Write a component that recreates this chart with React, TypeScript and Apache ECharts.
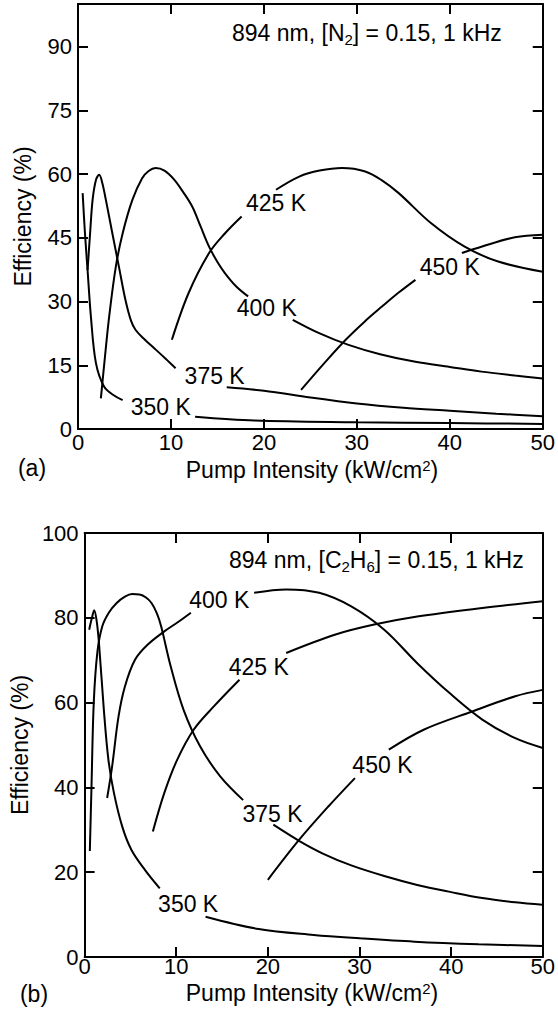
import React, { useEffect, useRef } from "react";
import * as echarts from "echarts";

type Pt = [number, number] | null;

// ---------- Panel (a): 894 nm, [N2] = 0.15, 1 kHz ----------
const n2_350K: Pt[] = [[0.5, 55.5], [0.75, 46], [1.03, 37.4], [1.39, 26.4], [1.93, 15.5], [2.8, 10], [3.8, 8], [4.8, 6.8], null, [12.6, 2.9], [19, 2.0], [30, 1.6], [40, 1.4], [50, 1.2]];
const n2_375K: Pt[] = [[1.03, 37.4], [1.3, 46], [1.57, 53.9], [1.93, 58.6], [2.28, 59.8], [2.6, 58], [3.0, 53.9], [3.7, 46], [4.4, 38.2], [5.1, 30.4], [5.7, 25.5], [6.2, 23.3], [7.2, 21], [8.0, 19.4], [9.4, 16.6], [10.5, 14.3], null, [16, 9.8], [20, 9.0], [25, 7.4], [30, 6.0], [35, 5.0], [40, 4.3], [45, 3.6], [50, 3.0]];
const n2_400K: Pt[] = [[2.46, 7.2], [2.9, 17], [3.35, 26.4], [4.07, 38.2], [4.8, 46], [5.85, 53.9], [6.9, 59], [7.6, 60.7], [8.35, 61.4], [9.3, 60.8], [10.3, 58.8], [11.3, 55.8], [12.3, 52.3], [13.2, 47.6], [14.1, 42.9], [15.0, 39.3], [15.8, 36.7], [17, 33.6], [18.3, 31.2], null, [23.1, 25.7], [26, 22.5], [29.1, 19.8], [32.5, 17.6], [36.3, 15.8], [40, 14.6], [43.4, 13.5], [47, 12.6], [50, 11.9]];
const n2_425K: Pt[] = [[10.1, 21], [11.9, 32], [14.1, 41.4], [15.8, 46], [17.6, 50], null, [21.3, 56.3], [23.8, 59.4], [26, 60.8], [28.4, 61.4], [30.9, 60.6], [32.7, 58.5], [34.5, 55.5], [38, 48.4], [41.6, 42.9], [45.2, 39.4], [50, 37]];
const n2_450K: Pt[] = [[24, 9.2], [26.5, 15.5], [28.8, 21], [30.8, 25.2], [32.7, 28.8], [34.5, 32.1], [36.3, 35.1], null, [41.3, 41.4], [43.4, 42.9], [47, 45.1], [50, 45.7]];

// ---------- Panel (b): 894 nm, [C2H6] = 0.15, 1 kHz ----------
const c2_350K: Pt[] = [[0.5, 77.2], [0.8, 80], [1.05, 81.8], [1.3, 79.5], [1.57, 74], [2.1, 58.3], [2.6, 46.5], [3.2, 38.7], [4.1, 30.8], [5.1, 25.3], [6.6, 20.5], [8.2, 16.2], null, [13.2, 9.5], [19, 6.6], [25, 5.2], [30, 4.4], [36, 3.6], [43, 3.0], [50, 2.6]];
const c2_375K: Pt[] = [[0.57, 25], [0.75, 40], [1.0, 60], [1.4, 72], [1.93, 78], [2.64, 81.2], [3.5, 83.5], [4.4, 85], [5.2, 85.6], [6.0, 85.5], [6.7, 84.8], [7.3, 83.5], [7.9, 81], [8.35, 78], [9.4, 68.5], [10.8, 58.3], [12.6, 49.7], [14.8, 42.6], [17.3, 37], null, [20.6, 31.2], [23.4, 27.4], [26, 24.4], [29.1, 21.6], [32.7, 19.1], [36.3, 17], [40, 15.3], [43.4, 13.9], [47, 12.9], [50, 12.3]];
const c2_400K: Pt[] = [[2.46, 37.5], [3.0, 44.9], [3.7, 56.7], [4.4, 63.8], [5.5, 70.1], [6.9, 73.7], [8.7, 76.8], [10.2, 79], [11.6, 81.2], null, [18.5, 85.9], [22, 86.7], [25.6, 85.9], [29.1, 82.7], [32.7, 77.2], [36.3, 69.3], [39.8, 62.3], [43.4, 56], [47, 51.6], [50, 49.3]];
const c2_425K: Pt[] = [[7.45, 29.6], [8.7, 38.7], [10.1, 46.5], [11.9, 53.6], [14.1, 59.1], [16.9, 65.4], null, [22, 71.7], [27.3, 76], [31.6, 78.4], [36.3, 80.3], [43.4, 82.3], [50, 83.9]];
const c2_450K: Pt[] = [[20, 18.2], [23.4, 27.6], [26.6, 35.5], [29.5, 42.2], null, [33.2, 48.9], [37, 53.6], [42.3, 57.9], [47, 61.5], [50, 63]];

// curve annotations (text anchored in data coordinates)
const n2Labels = [
  { text: "350 K", x: 8.9, y: 5.1 },
  { text: "375 K", x: 14.7, y: 12.5 },
  { text: "400 K", x: 20.3, y: 28.5 },
  { text: "425 K", x: 21.3, y: 53.2 },
  { text: "450 K", x: 40, y: 38.1 },
];
const c2Labels = [
  { text: "350 K", x: 11.3, y: 12.5 },
  { text: "375 K", x: 20.5, y: 33.8 },
  { text: "400 K", x: 14.7, y: 84.3 },
  { text: "425 K", x: 19, y: 68.5 },
  { text: "450 K", x: 32.5, y: 45.3 },
];

// texts with sub/superscripts: [text, kind]
type Piece = [string, "n" | "sub" | "sup"];
const titleA: Piece[] = [["894 nm, [N", "n"], ["2", "sub"], ["] = 0.15, 1 kHz", "n"]];
const titleB: Piece[] = [["894 nm, [C", "n"], ["2", "sub"], ["H", "n"], ["6", "sub"], ["] = 0.15, 1 kHz", "n"]];
const xName: Piece[] = [["Pump Intensity (kW/cm", "n"], ["2", "sup"], [")", "n"]];

const xMin = 0, xMax = 50, xStep = 10;
const yMin = 0, yMax = 100;
const yStepA = 15;
const yStepB = 20;

const FONT = "'Liberation Sans', Arial, Helvetica, sans-serif";
const FS = 22;
const FS_TEXT = 23;
const FS_SMALL = 15;

function toData(pts: Pt[]) {
  return pts.map((p) => (p ? p : ["-", "-"]));
}

let ctx: CanvasRenderingContext2D | null = null;
function measure(text: string, size: number) {
  if (!ctx) ctx = document.createElement("canvas").getContext("2d");
  if (!ctx) return text.length * size * 0.55;
  ctx.font = `${size}px ${FONT}`;
  return ctx.measureText(text).width;
}

function pieceText(pieces: Piece[], x0: number, y: number, anchor: "left" | "center") {
  const widths = pieces.map(([t, k]) => measure(t, k === "n" ? FS_TEXT : FS_SMALL));
  const total = widths.reduce((a, b) => a + b, 0);
  let x = anchor === "center" ? x0 - total / 2 : x0;
  const children: any[] = [];
  pieces.forEach(([t, k], i) => {
    const dy = k === "sub" ? 6 : k === "sup" ? -5 : 0;
    children.push({
      type: "text",
      x,
      y: y + dy,
      style: {
        text: t,
        fill: "#000",
        fontSize: k === "n" ? FS_TEXT : FS_SMALL,
        lineHeight: k === "n" ? 17 : 11,
        fontFamily: FONT,
        align: "left",
        verticalAlign: "middle",
      },
    });
    x += widths[i];
  });
  return { type: "group", children };
}

export default function App() {
  const ref = useRef<HTMLDivElement>(null);

  useEffect(() => {
    if (!ref.current) return;
    const chart = echarts.init(ref.current, null, { renderer: "svg" });

    const axisLine = { show: true, onZero: false, lineStyle: { color: "#000", width: 2 } };
    const tick = { show: true, inside: true, length: 10, lineStyle: { color: "#000", width: 2 } };
    const label = { color: "#000", fontSize: FS, fontFamily: FONT };

    const xAxisFor = (grid: number, labelMargin: number) => [
      {
        type: "value", gridIndex: grid, position: "bottom", min: xMin, max: xMax, interval: xStep,
        axisLine, axisTick: tick, splitLine: { show: false },
        axisLabel: { ...label, lineHeight: 16, margin: labelMargin },
      },
      {
        type: "value", gridIndex: grid, position: "top", min: xMin, max: xMax, interval: xStep,
        axisLine, axisTick: tick, splitLine: { show: false }, axisLabel: { show: false },
      },
    ];
    const yAxisFor = (grid: number, step: number) => [
      {
        type: "value", gridIndex: grid, position: "left", min: yMin, max: yMax, interval: step,
        axisLine, axisTick: tick, splitLine: { show: false },
        axisLabel: { ...label, margin: 6, formatter: (v: number) => (v % step === 0 ? String(v) : "") },
        name: "Efficiency (%)", nameLocation: "middle", nameGap: 44,
        nameTextStyle: { color: "#000", fontSize: FS_TEXT, fontFamily: FONT },
      },
      {
        type: "value", gridIndex: grid, position: "right", min: yMin, max: yMax, interval: step,
        axisLine, axisTick: tick, splitLine: { show: false }, axisLabel: { show: false },
      },
    ];

    const curve = (pts: Pt[], axIdx: number) => ({
      type: "line",
      xAxisIndex: axIdx,
      yAxisIndex: axIdx,
      data: toData(pts),
      smooth: 0.35,
      showSymbol: false,
      connectNulls: false,
      lineStyle: { color: "#000", width: 2 },
      silent: true,
    });
    const labels = (items: { text: string; x: number; y: number }[], axIdx: number) => ({
      type: "scatter",
      xAxisIndex: axIdx,
      yAxisIndex: axIdx,
      symbolSize: 1,
      itemStyle: { color: "rgba(0,0,0,0)", opacity: 1 },
      data: items.map((d) => ({ value: [d.x, d.y], name: d.text })),
      label: {
        show: true, position: "inside", formatter: (p: any) => p.name,
        color: "#000", opacity: 1, fontSize: FS_TEXT, fontFamily: FONT, textBorderWidth: 0,
      },
      silent: true,
      z: 5,
    });

    chart.setOption({
      animation: false,
      backgroundColor: "#fff",
      grid: [
        { left: 78, top: 4, width: 467, height: 425 },
        { left: 78, top: 533, width: 467, height: 424 },
      ],
      // x axes: 0 bottom(a), 1 top(a), 2 bottom(b), 3 top(b)
      xAxis: [...xAxisFor(0, 5), ...xAxisFor(1, 1)],
      yAxis: [...yAxisFor(0, yStepA), ...yAxisFor(1, yStepB)],
      series: [
        curve(n2_350K, 0), curve(n2_375K, 0), curve(n2_400K, 0), curve(n2_425K, 0), curve(n2_450K, 0),
        labels(n2Labels, 0),
        curve(c2_350K, 2), curve(c2_375K, 2), curve(c2_400K, 2), curve(c2_425K, 2), curve(c2_450K, 2),
        labels(c2Labels, 2),
      ],
      graphic: [
        pieceText(titleA, 232, 33, "left"),
        pieceText(titleB, 229, 560, "left"),
        pieceText(xName, 312, 470, "center"),
        pieceText(xName, 312, 993, "center"),
        {
          type: "text", x: 32, y: 468,
          style: { text: "(a)", fill: "#000", fontSize: FS_TEXT, fontFamily: FONT, align: "center", verticalAlign: "middle" },
        },
        {
          type: "text", x: 34, y: 994,
          style: { text: "(b)", fill: "#000", fontSize: FS_TEXT, fontFamily: FONT, align: "center", verticalAlign: "middle" },
        },
      ],
    });

    return () => chart.dispose();
  }, []);

  return (
    <div
      ref={ref}
      style={{ position: "absolute", left: 0, top: 0, width: 558, height: 1016, background: "#fff" }}
    />
  );
}
